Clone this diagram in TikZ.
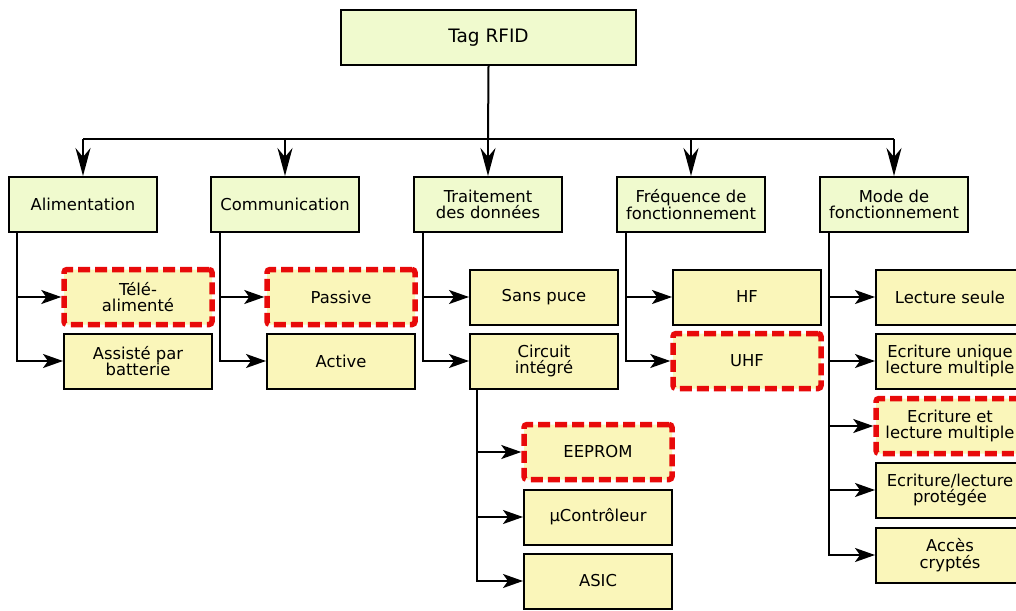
\documentclass[tikz,border=0pt]{standalone}
\usepackage{fontspec}
\setmainfont{DejaVu Sans}
\usepackage{tikz}
\usetikzlibrary{arrows.meta}

\definecolor{catfill}{RGB}{240,250,206}
\definecolor{subfill}{RGB}{250,246,186}
\definecolor{selred}{RGB}{232,10,10}

\begin{document}
\begin{tikzpicture}[x=1pt,y=-1pt]
\tikzset{box/.style = {draw=black, line width=2pt, minimum width=148pt, minimum height=55pt,
    inner sep=0pt, align=center, font=\fontsize{16.4}{16.5}\selectfont},
  cat/.style = {box, fill=catfill},
  sub/.style = {box, fill=subfill},
  sel/.style = {sub, draw=selred, line width=5.5pt, dash pattern=on 12pt off 5pt, rounded corners=3pt},
  line/.style = {line width=2pt},
  down/.style = {line, -{Stealth[length=28pt,width=15pt,inset=9pt]}},
  edge/.style = {line, -{Stealth[length=20pt,width=14pt,inset=5pt]}}}
\useasboundingbox (0,0) rectangle (1016,610);

\node[cat, minimum width=295pt, font=\fontsize{18.5}{19}\selectfont] (tag) at (488.5,37.5) {Tag RFID};

\node[cat] (ali) at (83,204.5) {Alimentation};
\node[cat] (com) at (285,204.5) {Communication};
\node[cat] (trt) at (488,204.5) {Traitement\\des données};
\node[cat] (frq) at (691,204.5) {Fréquence de\\fonctionnement};
\node[cat] (mod) at (894,204.5) {Mode de\\fonctionnement};

\node[sel] (tele) at (138,297) {Télé-\\alimenté};
\node[sub] (bat) at (138,361) {Assisté par\\batterie};
\node[sel] (pas) at (341,297) {Passive};
\node[sub] (act) at (341,361) {Active};
\node[sub] (spuce) at (544,297) {Sans puce};
\node[sub] (ci) at (544,361) {Circuit\\intégré};
\node[sub] (hf) at (747,297) {HF};
\node[sel] (uhf) at (747,361) {UHF};
\node[sel] (eep) at (598,452) {EEPROM};
\node[sub] (uc) at (598,517) {µContrôleur};
\node[sub] (asic) at (598,581) {ASIC};
\node[sub] (ls) at (950,297) {Lecture seule};
\node[sub] (eulm) at (950,361) {Ecriture unique\\lecture multiple};
\node[sel] (elm) at (950,426) {Ecriture et\\lecture multiple};
\node[sub] (elp) at (950,490) {Ecriture/lecture\\protégée};
\node[sub] (acc) at (950,555) {Accès\\cryptés};

% bus
\coordinate (bus) at (488,139);
\draw[line] (tag.south) -- (bus);
\draw[line] (ali.north |- bus) -- (mod.north |- bus);
\foreach \n in {ali,com,trt,frq,mod}
  \draw[down] (\n.north |- bus) -- (\n.north);

% branches
\draw[edge] ([xshift=9pt]ali.south west) |- (tele.west);
\draw[edge] ([xshift=9pt]ali.south west) |- (bat.west);
\draw[edge] ([xshift=10pt]com.south west) |- (pas.west);
\draw[edge] ([xshift=10pt]com.south west) |- (act.west);
\draw[edge] ([xshift=10pt]trt.south west) |- (spuce.west);
\draw[edge] ([xshift=10pt]trt.south west) |- (ci.west);
\draw[edge] ([xshift=10pt]frq.south west) |- (hf.west);
\draw[edge] ([xshift=10pt]frq.south west) |- (uhf.west);
\foreach \n in {eep,uc,asic}
  \draw[edge] ([xshift=8pt]ci.south west) |- (\n.west);
\foreach \n in {ls,eulm,elm,elp,acc}
  \draw[edge] ([xshift=10pt]mod.south west) |- (\n.west);

\end{tikzpicture}
\end{document}
